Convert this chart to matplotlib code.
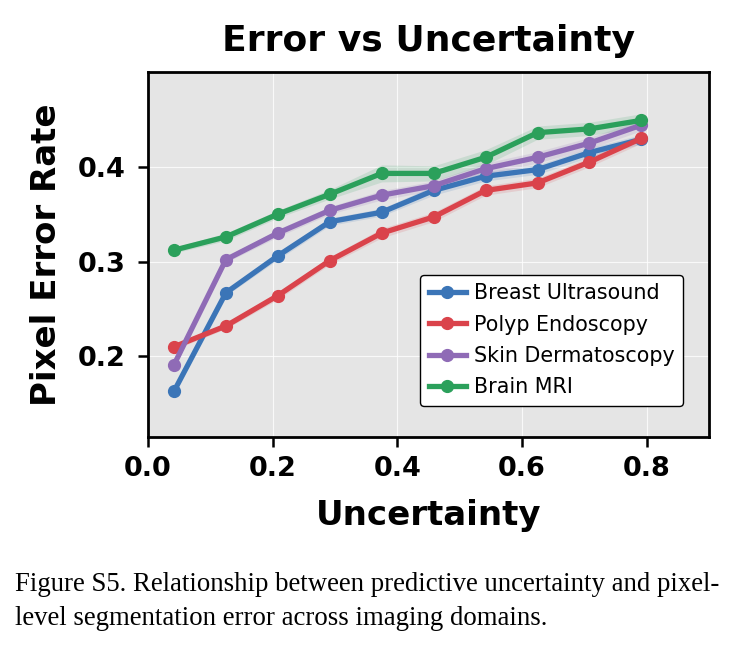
import matplotlib
matplotlib.use("Agg")
import matplotlib.pyplot as plt
import numpy as np

uncertainty = [0.0417, 0.125, 0.2083, 0.2917, 0.375, 0.4583, 0.5417, 0.625, 0.7083, 0.7917]

breast = [0.163, 0.267, 0.306, 0.342, 0.352, 0.375, 0.390, 0.397, 0.415, 0.429]
polyp = [0.210, 0.232, 0.264, 0.301, 0.330, 0.347, 0.375, 0.383, 0.405, 0.430]
skin = [0.191, 0.302, 0.330, 0.354, 0.370, 0.380, 0.398, 0.410, 0.425, 0.444]
brain = [0.312, 0.326, 0.350, 0.371, 0.393, 0.393, 0.410, 0.436, 0.440, 0.449]

breast_sd = [0.003, 0.003, 0.004, 0.004, 0.004, 0.005, 0.005, 0.005, 0.005, 0.005]
polyp_sd = [0.003, 0.003, 0.004, 0.004, 0.005, 0.005, 0.005, 0.005, 0.005, 0.005]
skin_sd = [0.003, 0.003, 0.004, 0.004, 0.005, 0.005, 0.006, 0.006, 0.006, 0.006]
brain_sd = [0.003, 0.004, 0.004, 0.005, 0.009, 0.008, 0.008, 0.007, 0.007, 0.007]

labels = ["Breast Ultrasound", "Polyp Endoscopy", "Skin Dermatoscopy", "Brain MRI"]
colors = ["#3b75b7", "#da434b", "#8f6bb6", "#2ba05b"]

series = [breast, polyp, skin, brain]
sds = [breast_sd, polyp_sd, skin_sd, brain_sd]

fig = plt.figure(figsize=(7.4, 6.49), dpi=100)
ax = fig.add_axes([0.2, 0.327, 0.758, 0.562])
ax.set_facecolor("#e5e5e5")
ax.grid(True, color="white", linewidth=0.8, alpha=0.8)
ax.set_axisbelow(True)

x = np.array(uncertainty)
for ys, sd, lab, c in zip(series, sds, labels, colors):
    ys = np.array(ys); sd = np.array(sd)
    ax.fill_between(x, ys - sd, ys + sd, color=c, alpha=0.15, linewidth=0)
    ax.plot(x, ys, color=c, linewidth=3.8, marker="o", markersize=8.5, label=lab)

ax.set_xlim(0, 0.9)
ax.set_ylim(0.115, 0.5)
ax.set_xticks([0.0, 0.2, 0.4, 0.6, 0.8])
ax.set_yticks([0.2, 0.3, 0.4])
ax.set_xticklabels(["0.0", "0.2", "0.4", "0.6", "0.8"])
ax.set_yticklabels(["0.2", "0.3", "0.4"])
for lbl in ax.get_xticklabels() + ax.get_yticklabels():
    lbl.set_fontweight("bold")
    lbl.set_fontsize(19.5)
ax.tick_params(direction="out", length=7, width=1.8)
ax.tick_params(axis="x", pad=7)
ax.tick_params(axis="y", pad=9)
for s in ax.spines.values():
    s.set_linewidth(2.0)
    s.set_color("black")

ax.set_xlabel("Uncertainty", fontsize=24.5, fontweight="bold", labelpad=12)
ax.set_ylabel("Pixel Error Rate", fontsize=24.5, fontweight="bold", labelpad=11)
ax.set_title("Error vs Uncertainty", fontsize=26, fontweight="bold", pad=15)

leg = ax.legend(loc="lower right", bbox_to_anchor=(0.954, 0.085), borderaxespad=0,
                fontsize=14.9, frameon=True, fancybox=True, framealpha=1.0,
                handlelength=1.8, labelspacing=0.55, handletextpad=0.4,
                borderpad=0.4)
leg.get_frame().set_edgecolor("black")
leg.get_frame().set_facecolor("white")
leg.get_frame().set_linewidth(1.0)

fig.text(15 / 740, 1 - 572 / 649,
         "Figure S5. Relationship between predictive uncertainty and pixel-\nlevel segmentation error across imaging domains.",
         family="Liberation Serif", fontsize=19.3, ha="left", va="top", linespacing=1.45)

fig.savefig("out.png", dpi=100)
